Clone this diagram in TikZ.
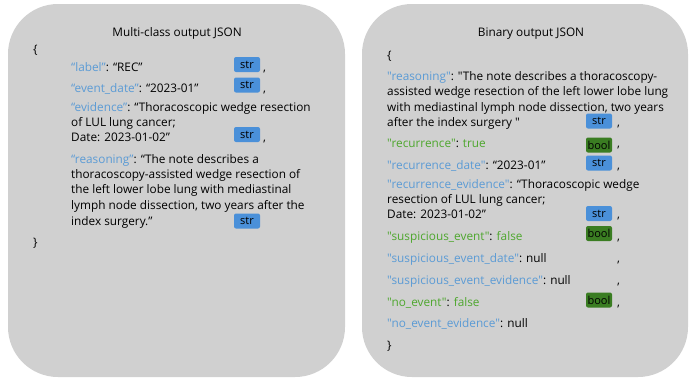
\documentclass[tikz,border=0pt]{standalone}
\usepackage{fontspec}
\setmainfont{Open Sans}[Ligatures=TeXOff]
\definecolor{panelgray}{HTML}{D0D0D0}
\definecolor{keyblue}{HTML}{5B9BD5}
\definecolor{keygreen}{HTML}{4EA72E}
\definecolor{strfill}{HTML}{4A90D9}
\definecolor{boolfill}{HTML}{3A7D22}
\newcommand\jk[1]{\textcolor{keyblue}{#1}}
\newcommand\jg[1]{\textcolor{keygreen}{#1}}
\begin{document}
\begin{tikzpicture}[x=1bp,y=-1bp,
  panel/.style={fill=panelgray,draw=none,rounded corners=50bp},
  ln/.style={anchor=base west,inner sep=0pt,font=\fontsize{11.8bp}{13bp}\selectfont},
  ttl/.style={anchor=base,inner sep=0pt,font=\fontsize{11.8bp}{13bp}\selectfont},
  badge/.style={rounded corners=2bp,minimum width=26bp,minimum height=15bp,inner sep=0pt,
    font=\fontsize{11bp}{12bp}\selectfont,text=black},
  strbadge/.style={badge,fill=strfill},
  boolbadge/.style={badge,fill=boolfill},
]
\useasboundingbox (0,0) rectangle (689,381);

% panels
\fill[panel] (8,4) rectangle (345,377);
\fill[panel] (362,4) rectangle (688,377);

% ---- multi-class output ----
\node[ttl] (ltitle) at (177,36) {Multi-class output JSON};
\node[ln] (lopen) at (33,53) {\{};
\node[ln] (llabel) at (71,71) {\jk{“label”}: “REC”};
\node[strbadge] (lb1) at (247,64.5) {str};
\node[ln] (lc1) at (263,71) {,};
\node[ln] (ldate) at (71,92) {\jk{“event\_date”}: “2023-01”};
\node[strbadge] (lb2) at (247,85) {str};
\node[ln] (lc2) at (263,92) {,};
\node[ln] (lev1) at (71,111) {\jk{“evidence”}: “Thoracoscopic wedge resection};
\node[ln] (lev2) at (71,126) {of LUL lung cancer;};
\node[ln] (lev3) at (71,141) {Date: 2023-01-02”};
\node[strbadge] (lb3) at (247,134.5) {str};
\node[ln] (lc3) at (263,141) {,};
\node[ln] (lrs1) at (71,163) {\jk{“reasoning”}: “The note describes a};
\node[ln] (lrs2) at (71,178) {thoracoscopy-assisted wedge resection of};
\node[ln] (lrs3) at (71,193) {the left lower lobe lung with mediastinal};
\node[ln] (lrs4) at (71,209) {lymph node dissection, two years after the};
\node[ln] (lrs5) at (71,225) {index surgery.”};
\node[strbadge] (lb4) at (247,221) {str};
\node[ln] (lclose) at (33,246) {\}};

% ---- binary output ----
\node[ttl] (rtitle) at (531,36) {Binary output JSON};
\node[ln] (ropen) at (387,59) {\{};
\node[ln] (rrs1) at (387,80) {\jk{"reasoning"}: "The note describes a thoracoscopy-};
\node[ln] (rrs2) at (387,95) {assisted wedge resection of the left lower lobe lung};
\node[ln] (rrs3) at (387,111) {with mediastinal lymph node dissection, two years};
\node[ln] (rrs4) at (387,126) {after the index surgery "};
\node[strbadge] (rb1) at (599,121) {str};
\node[ln] (rc1) at (617,126) {,};
\node[ln] (rrec) at (387,147) {\jg{"recurrence"}: \jg{true}};
\node[boolbadge] (rb2) at (599,145) {bool};
\node[ln] (rc2) at (617,147) {,};
\node[ln] (rrdate) at (387,169) {\jk{"recurrence\_date"}: “2023-01”};
\node[strbadge] (rb3) at (599,163) {str};
\node[ln] (rc3) at (617,169) {,};
\node[ln] (rev1) at (387,188) {\jk{"recurrence\_evidence"}: “Thoracoscopic wedge};
\node[ln] (rev2) at (387,203) {resection of LUL lung cancer;};
\node[ln] (rev3) at (387,218) {Date: 2023-01-02”};
\node[strbadge] (rb4) at (599,213.5) {str};
\node[ln] (rc4) at (617,218) {,};
\node[ln] (rsusp) at (387,240) {\jg{"suspicious\_event"}: \jg{false}};
\node[boolbadge] (rb5) at (599,233.5) {bool};
\node[ln] (rc5) at (617,240) {,};
\node[ln] (rsdate) at (387,262) {\jk{"suspicious\_event\_date"}: null};
\node[ln] (rc6) at (617,262) {,};
\node[ln] (rsev) at (387,284) {\jk{"suspicious\_event\_evidence"}: null};
\node[ln] (rc7) at (617,284) {,};
\node[ln] (rno) at (387,306) {\jg{"no\_event"}: \jg{false}};
\node[boolbadge] (rb6) at (599,300) {bool};
\node[ln] (rc8) at (617,306) {,};
\node[ln] (rnoev) at (387,327) {\jk{"no\_event\_evidence"}: null};
\node[ln] (rclose) at (387,349) {\}};
\end{tikzpicture}
\end{document}
